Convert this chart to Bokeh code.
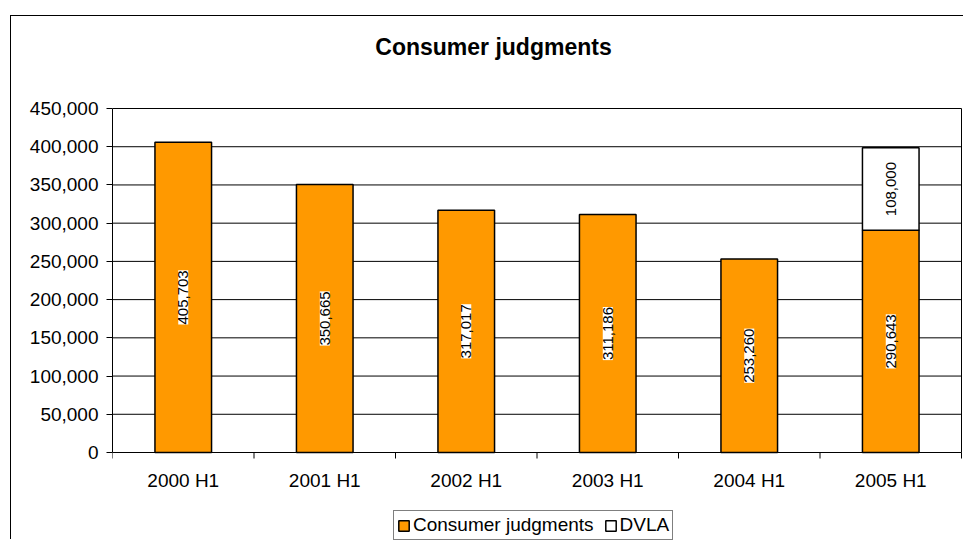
import numpy as np
from bokeh.plotting import figure
from bokeh.models import (ColumnDataSource, Range1d, FixedTicker, NumeralTickFormatter,
                          LabelSet, Label, Legend, LegendItem)
from bokeh.core.properties import value
from bokeh.embed import file_html
from bokeh.resources import INLINE

# ---- data ----
periods = ["2000 H1", "2001 H1", "2002 H1", "2003 H1", "2004 H1", "2005 H1"]
consumer = [405703, 350665, 317017, 311186, 253260, 290643]
dvla = [0, 0, 0, 0, 0, 108000]
y_ticks = [0, 50000, 100000, 150000, 200000, 250000, 300000, 350000, 400000, 450000]
title_text = "Consumer judgments"
series_names = ["Consumer judgments", "DVLA"]

# ---- styling / layout constants (pixels) ----
FONT = "Liberation Sans"
ORANGE = "#FF9900"
W, H = 953, 524            # canvas
LEFT = 101                 # space for y axis
PLOT_H = 344               # pixel height of 0..ymax
PLOT_W = 849               # pixel width of the categories
TOP_PAD = 92               # frame top -> ymax line
BOT_PAD = 88               # y=0 line -> canvas bottom

n = len(periods)
ymax = y_ticks[-1]
YPX = ymax / PLOT_H        # data units per pixel (y)
XPX = n / PLOT_W           # data units per pixel (x)
xc = (np.arange(n) + 0.5).tolist()

src_c = ColumnDataSource(dict(
    x=xc, top=consumer, mid=[v / 2 for v in consumer],
    label=[f"{v:,}" for v in consumer]))
idx = [i for i, v in enumerate(dvla) if v > 0]
src_d = ColumnDataSource(dict(
    x=[xc[i] for i in idx],
    bottom=[consumer[i] for i in idx],
    top=[consumer[i] + dvla[i] for i in idx],
    mid=[consumer[i] + dvla[i] / 2 for i in idx],
    label=[f"{dvla[i]:,}" for i in idx]))

p = figure(width=W, height=H, output_backend="svg", toolbar_location=None,
           x_range=Range1d(0, n + (W - LEFT - PLOT_W) * XPX),
           y_range=Range1d(-BOT_PAD * YPX, ymax + TOP_PAD * YPX),
           min_border_left=LEFT, min_border_top=0, min_border_right=0,
           min_border_bottom=0)
p.styles = {"margin-left": "10px", "margin-top": "15px",
            "border-left": "1px solid #000", "border-top": "1px solid #000"}
p.outline_line_color = None
p.background_fill_color = "white"
p.border_fill_color = "white"
p.xaxis.visible = False
p.xgrid.grid_line_color = None
p.ygrid.grid_line_color = None

# plot-area lines: gridlines (incl. baseline and top), right edge, x ticks
p.segment(x0=0, x1=n, y0=y_ticks, y1=y_ticks, line_color="black", line_width=1)
p.segment(x0=n, x1=n, y0=0, y1=ymax, line_color="black", line_width=1)
bounds = list(range(n + 1))
p.segment(x0=bounds, x1=bounds, y0=0, y1=-6 * YPX, line_color="black", line_width=1)

# category labels
p.text(x=xc, y=[-28 * YPX] * n, text=periods, text_align="center",
       text_baseline="middle", text_font=value(FONT), text_font_size="19px",
       text_color="black")

# bars
r1 = p.vbar(x="x", width=0.4, bottom=0, top="top", source=src_c,
            fill_color=ORANGE, line_color="black", line_width=1.5)
r2 = p.vbar(x="x", width=0.4, bottom="bottom", top="top", source=src_d,
            fill_color="white", line_color="black", line_width=1.5)

for s in (src_c, src_d):
    p.add_layout(LabelSet(x="x", y="mid", text="label", source=s, angle=np.pi / 2,
                          text_align="center", text_baseline="middle",
                          text_font=value(FONT), text_font_size="15px",
                          text_color="black", background_fill_color="white"))

# title
p.add_layout(Label(x=381, y=H - 30, x_units="screen", y_units="screen",
                   text=title_text, text_align="center", text_baseline="middle",
                   text_font=FONT, text_font_size="23px",
                   text_font_style="bold", text_color="black"))

# y axis
p.yaxis.bounds = (0, ymax)
p.yaxis.ticker = FixedTicker(ticks=y_ticks)
p.yaxis.formatter = NumeralTickFormatter(format="0,0")
p.yaxis.major_label_text_font = FONT
p.yaxis.major_label_text_font_size = "19px"
p.yaxis.major_label_text_color = "black"
p.yaxis.major_tick_out = 6
p.yaxis.major_tick_in = 0
p.yaxis.minor_tick_line_color = None
p.yaxis.axis_line_color = "black"
p.yaxis.major_tick_line_color = "black"
p.yaxis.major_label_standoff = 8

legend = Legend(items=[LegendItem(label=series_names[0], renderers=[r1]),
                       LegendItem(label=series_names[1], renderers=[r2])],
                orientation="horizontal", location=(281, 0),
                label_text_font=FONT, label_text_font_size="19px",
                label_text_color="black", glyph_width=13, glyph_height=13,
                label_standoff=3, spacing=10, padding=3, margin=0,
                border_line_color="black", border_line_width=1,
                background_fill_alpha=1, label_height=18)
p.add_layout(legend, "center")

open("out.html", "w").write(file_html(p, INLINE))
